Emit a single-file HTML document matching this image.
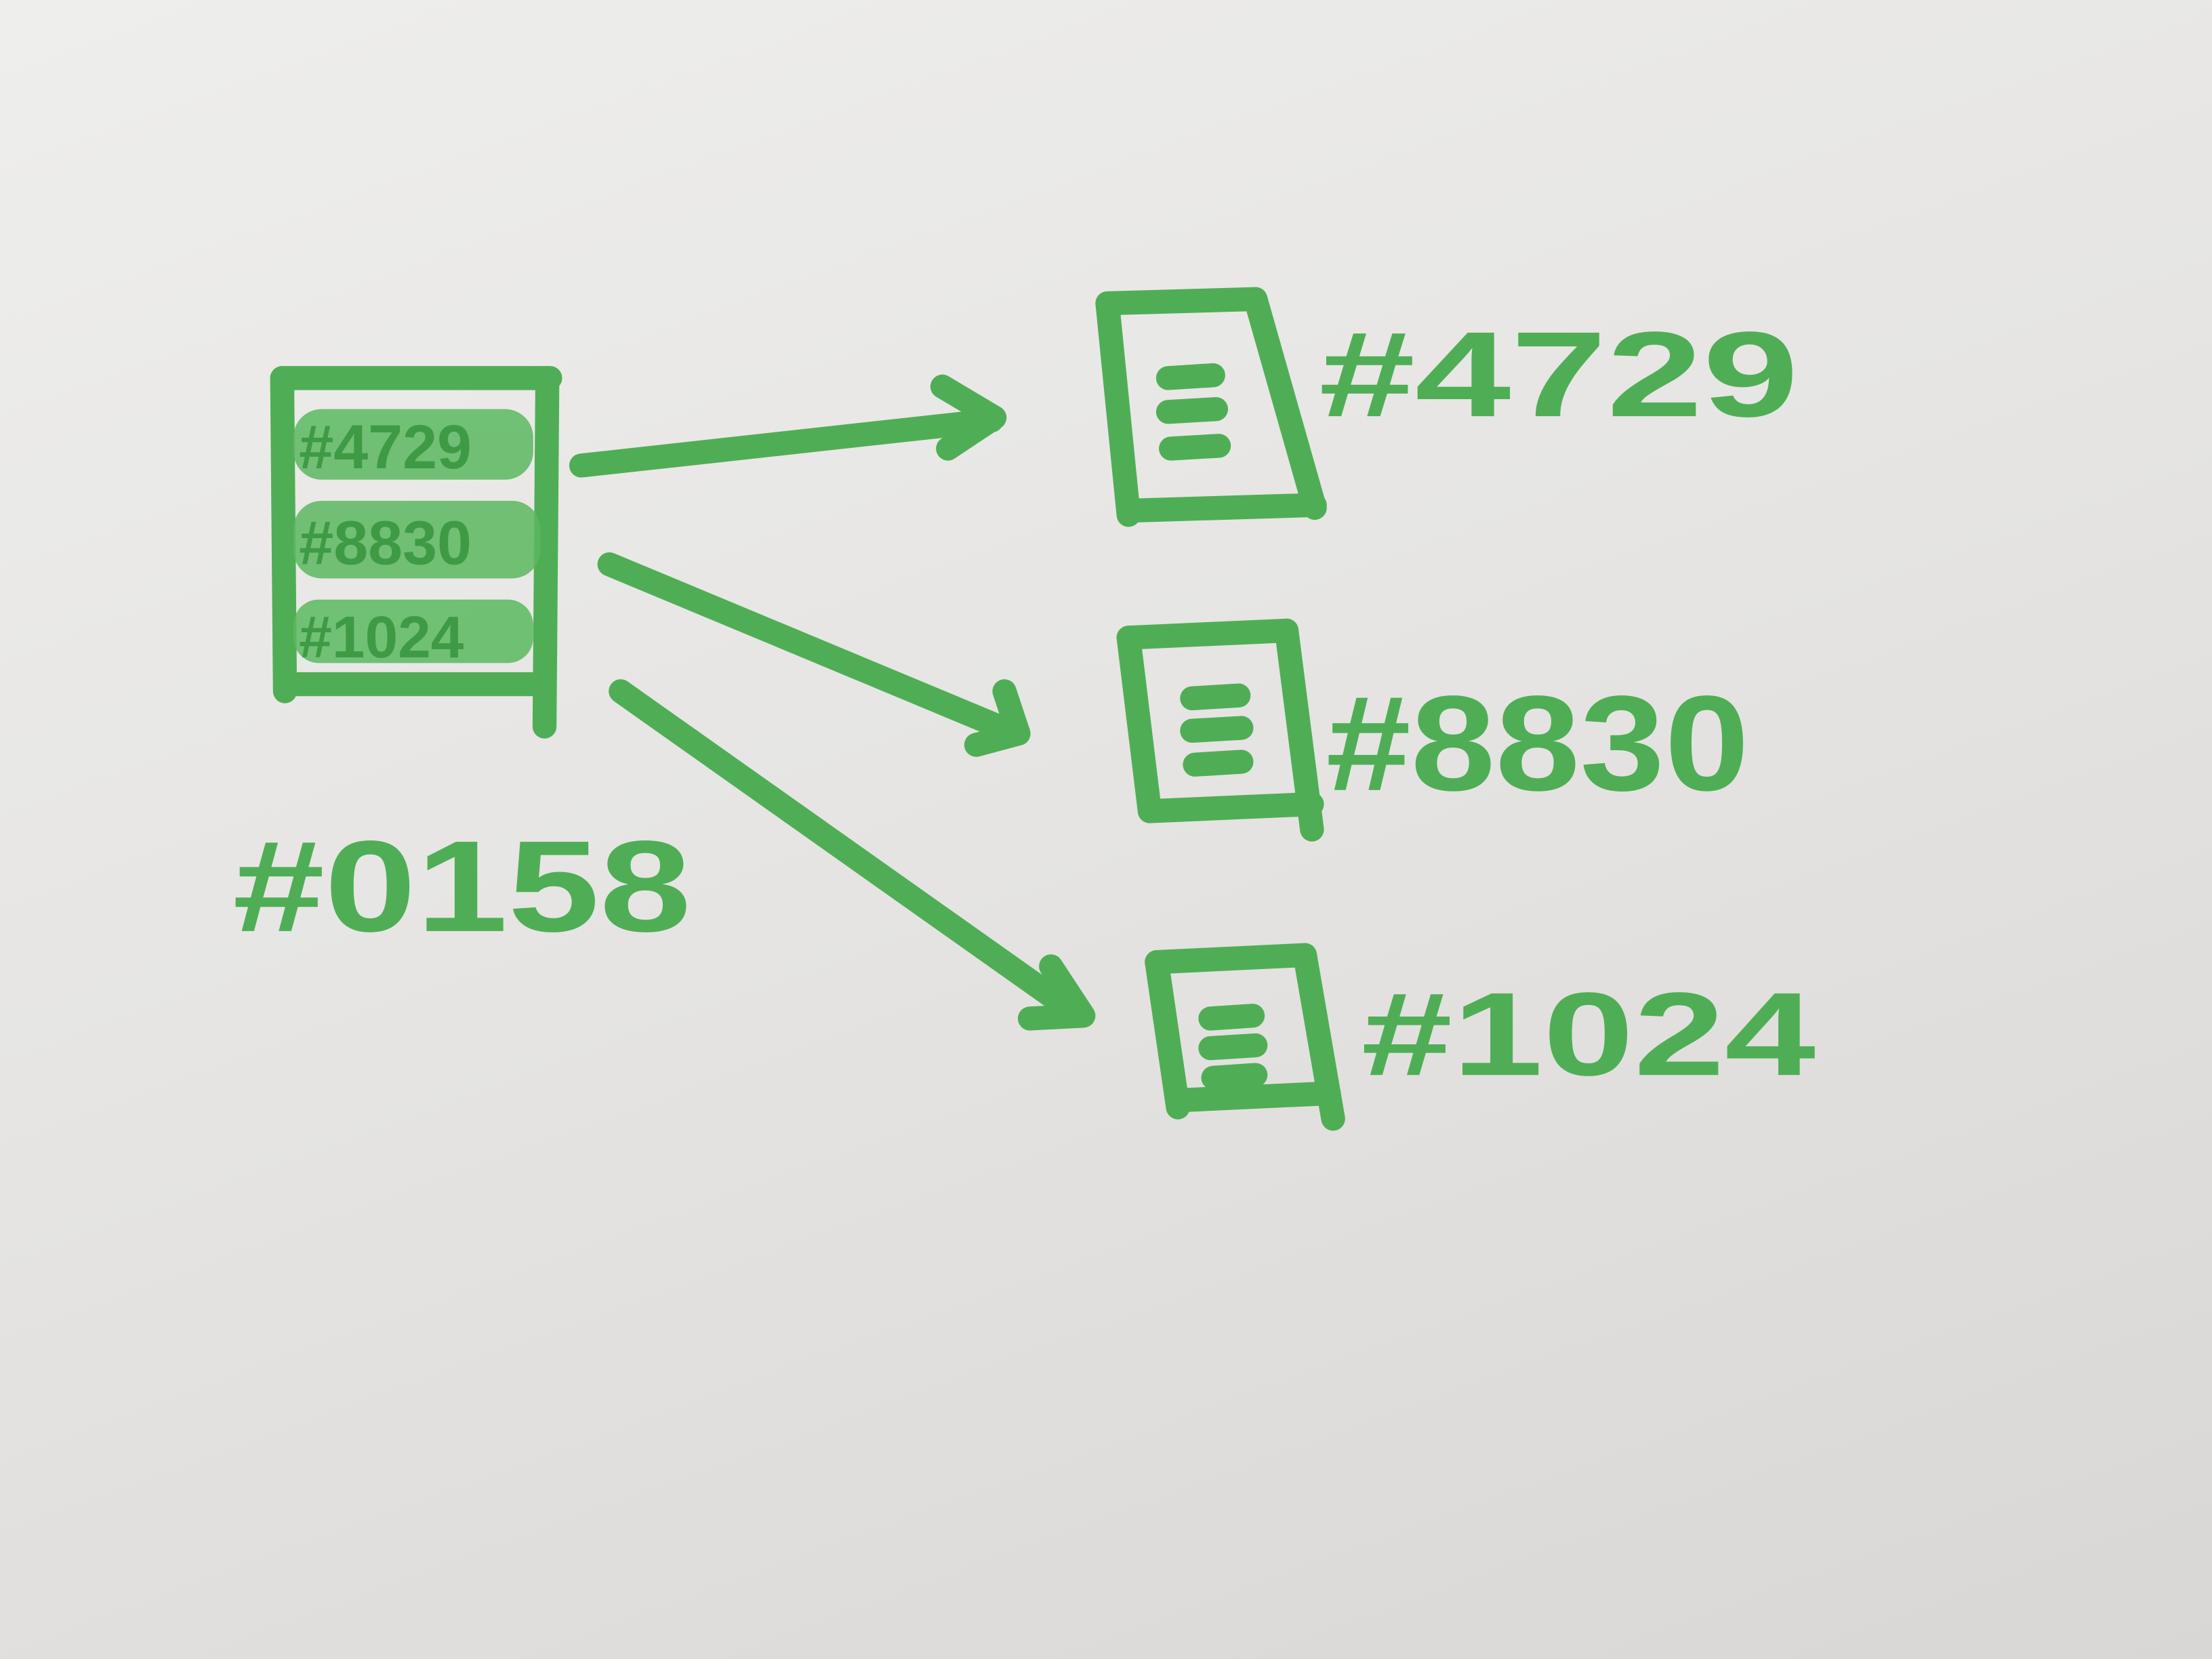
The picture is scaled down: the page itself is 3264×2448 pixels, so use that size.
<!DOCTYPE html>
<html>
<head>
<meta charset="utf-8">
<style>
  html,body{margin:0;padding:0;width:3264px;height:2448px;overflow:hidden;}
  body{background:linear-gradient(160deg,#eeeeec 0%,#e6e5e3 45%,#d9d7d5 100%);}
  svg{display:block;}
  text{font-family:"Liberation Sans",sans-serif;font-weight:bold;fill:#4fae55;}
</style>
</head>
<body>
<svg width="3264" height="2448" viewBox="0 0 1568 1176" xmlns="http://www.w3.org/2000/svg">
  <g fill="none" stroke="#4fae55" stroke-width="17" stroke-linecap="round" stroke-linejoin="round">
    <!-- big source box -->
    <line x1="200" y1="268" x2="390" y2="268"/>
    <line x1="200" y1="268" x2="202" y2="490"/>
    <line x1="388" y1="268" x2="386" y2="515"/>
    <line x1="205" y1="485" x2="380" y2="485"/>
    <!-- arrows -->
    <line x1="412" y1="330" x2="703" y2="298"/>
    <polyline points="668,274 705,296 672,318"/>
    <line x1="432" y1="400" x2="720" y2="520"/>
    <polyline points="712,490 722,520 692,528"/>
    <line x1="440" y1="490" x2="765" y2="720"/>
    <polyline points="745,685 768,720 730,722"/>
    <!-- box 1 -->
    <line x1="785" y1="215" x2="890" y2="212"/>
    <line x1="785" y1="215" x2="800" y2="365"/>
    <line x1="890" y1="212" x2="932" y2="360"/>
    <line x1="800" y1="362" x2="932" y2="358"/>
    <line x1="828" y1="268" x2="860" y2="266"/>
    <line x1="828" y1="292" x2="862" y2="290"/>
    <line x1="830" y1="318" x2="864" y2="316"/>
    <!-- box 2 -->
    <line x1="800" y1="452" x2="912" y2="447"/>
    <line x1="800" y1="452" x2="815" y2="575"/>
    <line x1="912" y1="447" x2="930" y2="588"/>
    <line x1="815" y1="575" x2="930" y2="570"/>
    <line x1="845" y1="495" x2="878" y2="493"/>
    <line x1="845" y1="518" x2="880" y2="516"/>
    <line x1="847" y1="542" x2="880" y2="540"/>
    <!-- box 3 -->
    <line x1="820" y1="682" x2="925" y2="677"/>
    <line x1="820" y1="682" x2="835" y2="785"/>
    <line x1="925" y1="677" x2="945" y2="793"/>
    <line x1="835" y1="780" x2="942" y2="775"/>
    <line x1="858" y1="722" x2="888" y2="720"/>
    <line x1="858" y1="743" x2="890" y2="741"/>
    <line x1="860" y1="764" x2="890" y2="762"/>
  </g>
  <!-- inner blobs of big box -->
  <g fill="#5bb860" opacity="0.85">
    <rect x="208" y="290" width="170" height="50" rx="20"/>
    <rect x="208" y="355" width="175" height="55" rx="20"/>
    <rect x="208" y="425" width="170" height="45" rx="18"/>
  </g>
  <text x="212" y="332" font-size="44" fill="#3f9a45" style="fill:#3f9a45">#4729</text>
  <text x="212" y="400" font-size="44" style="fill:#3f9a45">#8830</text>
  <text x="212" y="466" font-size="42" style="fill:#3f9a45">#1024</text>
  <!-- labels -->
  <text x="165" y="660" font-size="92" textLength="325" lengthAdjust="spacingAndGlyphs">#0158</text>
  <text x="935" y="295" font-size="86" textLength="340" lengthAdjust="spacingAndGlyphs">#4729</text>
  <text x="940" y="560" font-size="96" textLength="300" lengthAdjust="spacingAndGlyphs">#8830</text>
  <text x="965" y="762" font-size="84" textLength="322" lengthAdjust="spacingAndGlyphs">#1024</text>
</svg>
</body>
</html>
